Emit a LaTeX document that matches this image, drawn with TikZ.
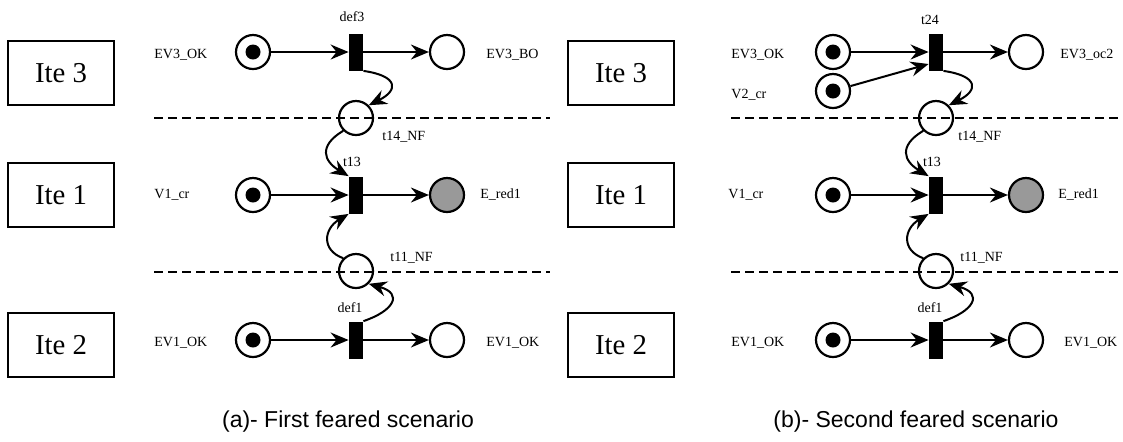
\documentclass[tikz,border=0pt]{standalone}
\usepackage{fontspec}
\setmainfont{Liberation Serif}
\setsansfont{Liberation Sans}
\usetikzlibrary{arrows.meta}

\begin{document}
\begin{tikzpicture}[x=0.5pt,y=-0.5pt,
  place/.style={draw, circle, line width=1.1pt, minimum size=17pt, inner sep=0pt},
  token/.style={fill, circle, minimum size=7.5pt, inner sep=0pt},
  trans/.style={fill, rectangle, minimum width=7pt, minimum height=18.5pt, inner sep=0pt},
  itebox/.style={draw, line width=1.3pt, minimum width=53pt, minimum height=32pt, font=\fontsize{14.4}{16}\selectfont},
  lbl/.style={font=\fontsize{7}{8}\selectfont, inner sep=0pt},
  arc/.style={line width=1pt, -{Stealth[length=9pt,width=7.5pt,inset=3pt]}},
  sep/.style={line width=1.2pt, dash pattern=on 4.5pt off 2.5pt},
  capt/.style={font=\sffamily\fontsize{11.5}{13}\selectfont}]
\useasboundingbox (0,0) rectangle (1123,441);
%
% (a) first scenario
\node[itebox] (a-ite3) at (61,73) {Ite 3};
\node[itebox] (a-ite1) at (61,195) {Ite 1};
\node[itebox] (a-ite2) at (61,345) {Ite 2};
\draw[sep] (154,118) -- (550,118);
\draw[sep] (154,272) -- (550,272);
\node[place] (a-ev3ok) at (253,52) {};
\node[token] (a-k1) at (a-ev3ok) {};
\node[trans] (a-def3) at (356,52) {};
\node[place] (a-ev3bo) at (447,52) {};
\node[place] (a-t14) at (356,118) {};
\node[place] (a-v1cr) at (253,195) {};
\node[token] (a-k2) at (a-v1cr) {};
\node[trans] (a-t13) at (356,195) {};
\node[place, fill=black!40] (a-ered1) at (447,195) {};
\node[place] (a-t11) at (356,271) {};
\node[place] (a-ev1ok) at (253,340) {};
\node[token] (a-k3) at (a-ev1ok) {};
\node[trans] (a-def1) at (356,340) {};
\node[place] (a-ev1ok2) at (447,340) {};
\node[lbl, anchor=west] (a-l1) at (154,55) {EV3\_OK};
\node[lbl] (a-l2) at (352,17) {def3};
\node[lbl, anchor=west] (a-l3) at (486,55) {EV3\_BO};
\node[lbl, anchor=west] (a-l4) at (382,137) {t14\_NF};
\node[lbl, anchor=west] (a-l5) at (154,195) {V1\_cr};
\node[lbl] (a-l6) at (352,162) {t13};
\node[lbl, anchor=west] (a-l7) at (480,195) {E\_red1};
\node[lbl, anchor=west] (a-l8) at (390,258) {t11\_NF};
\node[lbl] (a-l9) at (350,308) {def1};
\node[lbl, anchor=west] (a-l10) at (154,343) {EV1\_OK};
\node[lbl, anchor=west] (a-l11) at (486,343) {EV1\_OK};
\draw[arc] (a-ev3ok) -- (a-def3);
\draw[arc] (a-def3) -- (a-ev3bo);
\draw[arc] (a-v1cr) -- (a-t13);
\draw[arc] (a-t13) -- (a-ered1);
\draw[arc] (a-ev1ok) -- (a-def1);
\draw[arc] (a-def1) -- (a-ev1ok2);
\draw[arc] (a-def3.south east) .. controls +(35,5) and +(30,-15) .. (a-t14.north east);
\draw[arc] (a-t14.south west) .. controls +(-25,15) and +(-25,-15) .. (a-t13.north west);
\draw[arc] (a-t11.north west) .. controls +(-22,-8) and +(-25,15) .. (a-t13.south west);
\draw[arc] (a-def1.north east) .. controls +(30,-10) and +(35,10) .. (a-t11.south east);
\node[capt] (a-cap) at (348,422) {(a)- First feared scenario};
%
% (b) second scenario
\node[itebox] (b-ite3) at (621,73) {Ite 3};
\node[itebox] (b-ite1) at (621,195) {Ite 1};
\node[itebox] (b-ite2) at (621,345) {Ite 2};
\draw[sep] (731,118) -- (1118,118);
\draw[sep] (731,272) -- (1118,272);
\node[place] (b-ev3ok) at (833,52) {};
\node[token] (b-k1) at (b-ev3ok) {};
\node[place] (b-v2cr) at (833,91) {};
\node[token] (b-k2) at (b-v2cr) {};
\node[trans] (b-t24) at (936,52) {};
\node[place] (b-ev3oc2) at (1026,52) {};
\node[place] (b-t14) at (936,118) {};
\node[place] (b-v1cr) at (833,195) {};
\node[token] (b-k3) at (b-v1cr) {};
\node[trans] (b-t13) at (936,195) {};
\node[place, fill=black!40] (b-ered1) at (1026,195) {};
\node[place] (b-t11) at (936,271) {};
\node[place] (b-ev1ok) at (833,340) {};
\node[token] (b-k4) at (b-ev1ok) {};
\node[trans] (b-def1) at (936,340) {};
\node[place] (b-ev1ok2) at (1026,340) {};
\node[lbl, anchor=west] (b-l1) at (731,55) {EV3\_OK};
\node[lbl, anchor=west] (b-l2) at (731,95) {V2\_cr};
\node[lbl] (b-l3) at (930,20) {t24};
\node[lbl, anchor=west] (b-l4) at (1060,55) {EV3\_oc2};
\node[lbl, anchor=west] (b-l5) at (958,137) {t14\_NF};
\node[lbl, anchor=west] (b-l6) at (728,195) {V1\_cr};
\node[lbl] (b-l7) at (932,162) {t13};
\node[lbl, anchor=west] (b-l8) at (1058,195) {E\_red1};
\node[lbl, anchor=west] (b-l9) at (960,258) {t11\_NF};
\node[lbl] (b-l10) at (930,308) {def1};
\node[lbl, anchor=west] (b-l11) at (731,343) {EV1\_OK};
\node[lbl, anchor=west] (b-l12) at (1064,343) {EV1\_OK};
\draw[arc] (b-ev3ok) -- (b-t24);
\draw[arc] (b-v2cr) -- ([yshift=-6pt]b-t24.west);
\draw[arc] (b-t24) -- (b-ev3oc2);
\draw[arc] (b-v1cr) -- (b-t13);
\draw[arc] (b-t13) -- (b-ered1);
\draw[arc] (b-ev1ok) -- (b-def1);
\draw[arc] (b-def1) -- (b-ev1ok2);
\draw[arc] (b-t24.south east) .. controls +(35,5) and +(30,-15) .. (b-t14.north east);
\draw[arc] (b-t14.south west) .. controls +(-25,15) and +(-25,-15) .. (b-t13.north west);
\draw[arc] (b-t11.north west) .. controls +(-22,-8) and +(-25,15) .. (b-t13.south west);
\draw[arc] (b-def1.north east) .. controls +(30,-10) and +(35,10) .. (b-t11.south east);
\node[capt] (b-cap) at (916,422) {(b)- Second feared scenario};
%
\end{tikzpicture}
\end{document}
